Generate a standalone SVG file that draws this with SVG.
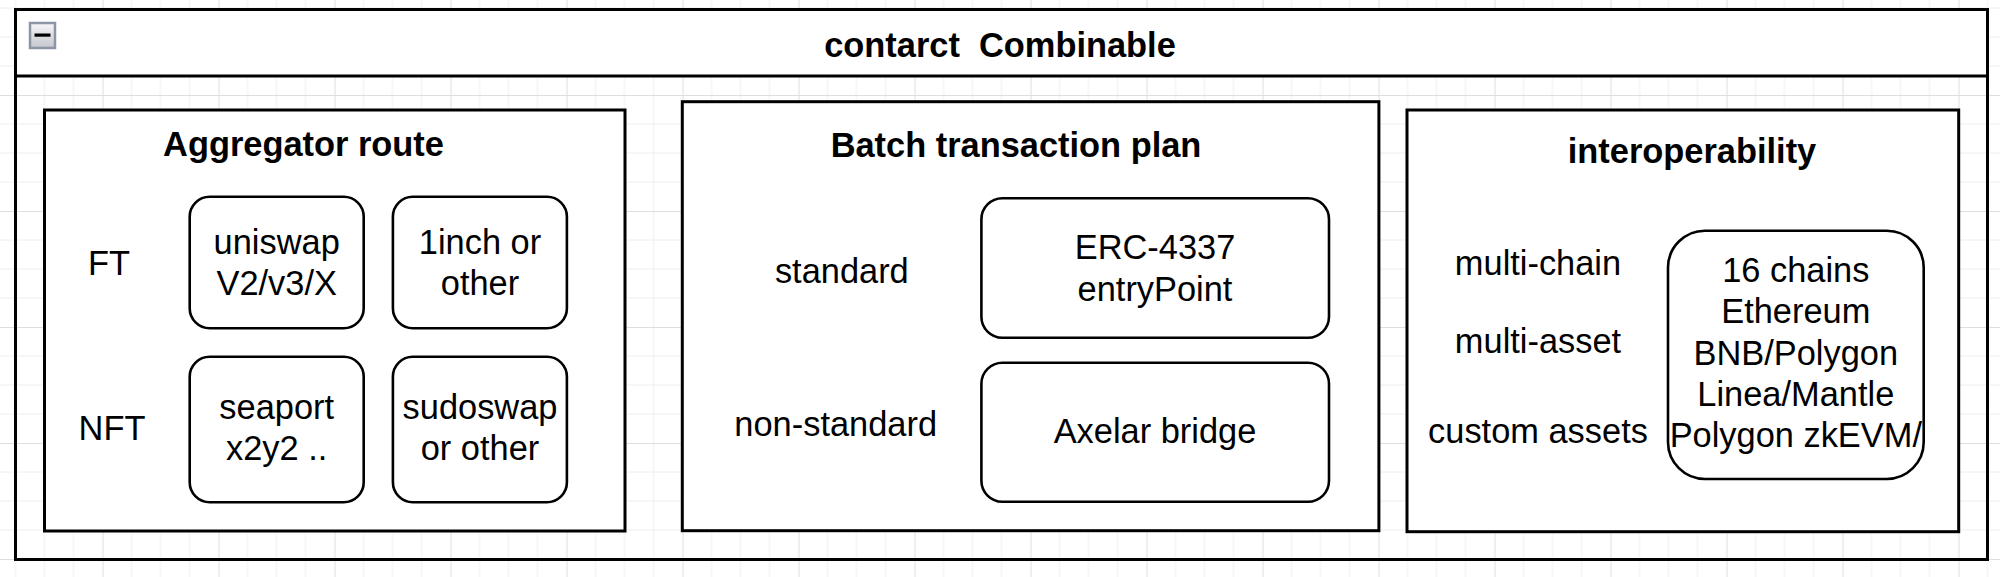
<svg xmlns="http://www.w3.org/2000/svg" width="2000" height="577" viewBox="0 0 2000 577">
<style>
text{font-family:"Liberation Sans",Arial,Helvetica,sans-serif;font-size:34.4px;fill:#000;text-anchor:middle}
.b{font-weight:bold}
.pre{white-space:pre}
.box{fill:#fff;stroke:#000;stroke-width:3}
.rbox{fill:#fff;stroke:#000;stroke-width:2.6}
.minor{stroke:#eeeeee;stroke-width:1}
.major{stroke:#dedede;stroke-width:1}
</style>
<defs>
<pattern id="grid" patternUnits="userSpaceOnUse" x="102.5" y="95" width="116" height="116">
<path class="minor" d="M29 0V116M58 0V116M87 0V116M0 29H116M0 58H116M0 87H116" fill="none"/>
<path class="major" d="M0.5 0V116M0 0.5H116" fill="none"/>
</pattern>
<linearGradient id="btn" x1="0" y1="0" x2="0" y2="1">
<stop offset="0" stop-color="#f7f7f9"/>
<stop offset="1" stop-color="#c4c6cc"/>
</linearGradient>
</defs>
<rect width="2000" height="577" fill="#fff"/>
<rect width="2000" height="577" fill="url(#grid)"/>

<g id="container">
<rect x="15.5" y="9.5" width="1972" height="550" fill="none" stroke="#000" stroke-width="3"/>
<rect x="15.5" y="9.5" width="1972" height="66.5" fill="#fff" stroke="#000" stroke-width="3"/>
<rect x="30" y="23" width="25" height="25" fill="url(#btn)" stroke="#8c95a6" stroke-width="2.5"/>
<rect x="34.5" y="33.5" width="16" height="3.2" fill="#000"/>
<text class="b pre" x="1000" y="57">contarct  Combinable</text>
</g>

<g id="aggregator">
<rect class="box" x="44.5" y="110" width="580.5" height="421"/>
<text class="b" x="303.5" y="156">Aggregator route</text>
<text x="109" y="275">FT</text>
<text x="112" y="440">NFT</text>
</g>
<g id="uniswap">
<rect class="rbox" x="189.7" y="196.7" width="174" height="131.6" rx="20"/>
<text x="276.7" y="254">uniswap</text>
<text x="276.7" y="295">V2/v3/X</text>
</g>
<g id="oneinch">
<rect class="rbox" x="392.9" y="196.7" width="174" height="131.6" rx="20"/>
<text x="480" y="254">1inch or</text>
<text x="480" y="295">other</text>
</g>
<g id="seaport">
<rect class="rbox" x="189.7" y="356.7" width="174" height="145.6" rx="20"/>
<text x="276.7" y="418.5">seaport</text>
<text x="276.7" y="460">x2y2 ..</text>
</g>
<g id="sudoswap">
<rect class="rbox" x="392.9" y="356.7" width="174" height="145.6" rx="20"/>
<text x="480" y="418.5">sudoswap</text>
<text x="480" y="460">or other</text>
</g>

<g id="batch">
<rect class="box" x="682.3" y="101.7" width="696.6" height="429"/>
<text class="b" x="1016" y="156.7">Batch transaction plan</text>
<text x="841.8" y="283.3">standard</text>
<text x="835.7" y="436">non-standard</text>
</g>
<g id="erc4337">
<rect class="rbox" x="981.4" y="198.3" width="347.6" height="139.4" rx="21"/>
<text x="1155" y="259.3">ERC-4337</text>
<text x="1155" y="300.7">entryPoint</text>
</g>
<g id="axelar">
<rect class="rbox" x="981.4" y="362.7" width="347.6" height="139" rx="21"/>
<text x="1155" y="442.7">Axelar bridge</text>
</g>

<g id="interop">
<rect class="box" x="1407" y="110" width="551.7" height="421.7"/>
<text class="b" x="1692" y="163">interoperability</text>
<text x="1538" y="275">multi-chain</text>
<text x="1538" y="353.3">multi-asset</text>
<text x="1538" y="442.7">custom assets</text>
</g>
<g id="chains">
<rect class="rbox" x="1668" y="230.7" width="255.7" height="248.3" rx="37"/>
<text x="1795.8" y="281.7">16 chains</text>
<text x="1795.8" y="323.3">Ethereum</text>
<text x="1795.8" y="365">BNB/Polygon</text>
<text x="1795.8" y="406">Linea/Mantle</text>
<text x="1795.8" y="446.7">Polygon zkEVM/</text>
</g>

<g id="connectors"></g>
</svg>
